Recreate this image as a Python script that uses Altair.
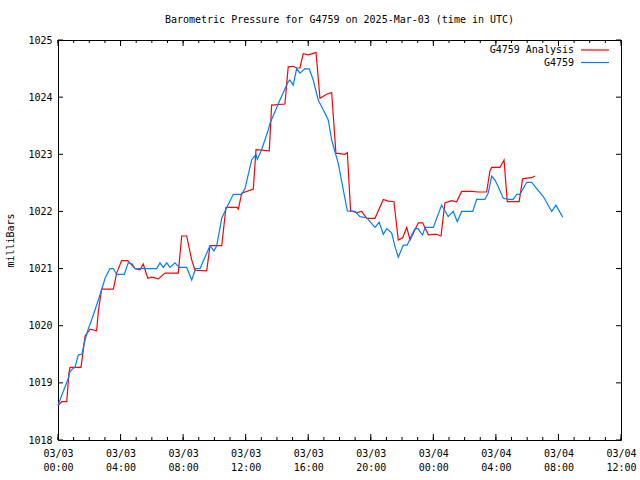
import json
import altair as alt
import pandas as pd

# ---------------- data (hours after 2025-03-03 00:00 UTC, millibars) -------------
analysis_hours = [0.0, 0.24, 0.56, 0.70, 0.77, 1.47, 1.62, 1.73, 2.05, 2.47, 2.58, 2.79,
                  3.54, 3.75, 4.07, 4.46, 4.92, 5.24, 5.45, 5.74, 5.99, 6.41, 6.84, 7.69,
                  7.91, 8.23, 8.55, 8.76, 9.51, 9.72, 10.47, 10.74, 11.43, 11.53, 11.75,
                  12.49, 12.66, 13.51, 13.66, 14.51, 14.72, 15.04, 15.26, 15.47, 15.68,
                  16.00, 16.50, 16.75, 17.18, 17.50, 17.77, 18.35, 18.50, 18.71, 19.10,
                  19.42, 19.74, 20.27, 20.80, 21.12, 21.48, 21.76, 22.04, 22.30, 22.51,
                  23.04, 23.32, 23.68, 24.00, 24.21, 24.49, 24.74, 25.17, 25.49, 25.81,
                  26.45, 26.87, 27.41, 27.62, 27.73, 28.26, 28.52, 28.73, 29.49, 29.71,
                  29.86, 30.29, 30.50]
analysis_mb = [1018.60, 1018.67, 1018.67, 1019.17, 1019.27, 1019.27, 1019.58, 1019.82,
               1019.94, 1019.91, 1020.25, 1020.64, 1020.64, 1020.92, 1021.14, 1021.14,
               1021.00, 1020.98, 1021.08, 1020.83, 1020.85, 1020.82, 1020.92, 1020.92,
               1021.57, 1021.57, 1021.15, 1020.97, 1020.96, 1021.40, 1021.40, 1022.07,
               1022.07, 1022.04, 1022.32, 1022.39, 1023.08, 1023.06, 1023.86, 1023.88,
               1024.53, 1024.54, 1024.51, 1024.51, 1024.76, 1024.74, 1024.78, 1023.98,
               1024.05, 1024.08, 1023.02, 1023.00, 1023.03, 1022.01, 1021.98, 1022.00,
               1021.88, 1021.88, 1022.21, 1022.18, 1022.17, 1021.50, 1021.54, 1021.72,
               1021.50, 1021.80, 1021.80, 1021.59, 1021.60, 1021.60, 1021.57, 1022.15,
               1022.19, 1022.17, 1022.35, 1022.35, 1022.34, 1022.34, 1022.71, 1022.77,
               1022.77, 1022.90, 1022.17, 1022.17, 1022.57, 1022.58, 1022.59, 1022.62]

obs_hours = [0.0, 0.66, 0.77, 1.09, 1.30, 1.52, 1.73, 1.94, 2.15, 2.58, 2.79, 3.01, 3.32,
             3.54, 3.75, 4.24, 4.49, 4.75, 4.92, 6.31, 6.52, 6.73, 6.95, 7.16, 7.48, 7.76,
             8.23, 8.55, 8.80, 9.08, 9.72, 9.97, 10.15, 10.47, 10.79, 11.21, 11.75, 11.96,
             12.38, 12.66, 12.74, 13.02, 13.45, 13.55, 14.19, 14.72, 14.83, 15.04, 15.26,
             15.47, 15.79, 16.07, 16.32, 16.64, 16.96, 17.28, 17.50, 17.92, 18.24, 18.50,
             18.99, 19.31, 19.74, 19.95, 20.27, 20.54, 20.80, 21.02, 21.34, 21.55, 21.76,
             22.08, 22.33, 22.62, 22.83, 23.02, 23.19, 23.32, 23.47, 24.00, 24.53, 24.70,
             24.95, 25.27, 25.53, 25.81, 26.52, 26.77, 27.30, 27.51, 27.73, 27.94, 28.15,
             28.47, 28.79, 29.11, 29.33, 29.54, 29.97, 30.29, 30.61, 31.03, 31.57, 31.84,
             32.27]
obs_mb = [1018.61, 1019.08, 1019.20, 1019.28, 1019.49, 1019.50, 1019.75, 1019.95,
          1020.10, 1020.45, 1020.63, 1020.83, 1021.00, 1021.00, 1020.90, 1020.90,
          1021.10, 1021.08, 1021.00, 1021.00, 1021.10, 1021.02, 1021.10, 1021.02,
          1021.10, 1021.02, 1021.02, 1020.80, 1021.00, 1021.00, 1021.40, 1021.31,
          1021.40, 1021.88, 1022.07, 1022.30, 1022.30, 1022.40, 1022.90, 1023.00,
          1022.91, 1023.08, 1023.43, 1023.54, 1023.95, 1024.27, 1024.30, 1024.21,
          1024.50, 1024.42, 1024.50, 1024.49, 1024.30, 1023.95, 1023.78, 1023.60,
          1023.25, 1022.84, 1022.38, 1022.01, 1022.00, 1021.91, 1021.89, 1021.82,
          1021.72, 1021.81, 1021.60, 1021.70, 1021.62, 1021.38, 1021.20, 1021.41,
          1021.41, 1021.59, 1021.70, 1021.70, 1021.63, 1021.59, 1021.72, 1021.72,
          1022.11, 1022.03, 1021.91, 1022.00, 1021.82, 1022.00, 1022.00, 1022.21,
          1022.21, 1022.32, 1022.62, 1022.55, 1022.43, 1022.23, 1022.21, 1022.21,
          1022.30, 1022.30, 1022.51, 1022.51, 1022.40, 1022.26, 1022.00, 1022.11,
          1021.90]

series_names = ["G4759 Analysis", "G4759"]
series_colors = ["#ff0000", "#0080ff"]

x_tick_hours = [0, 4, 8, 12, 16, 20, 24, 28, 32, 36]
x_tick_dates = ["03/03", "03/03", "03/03", "03/03", "03/03", "03/03",
                "03/04", "03/04", "03/04", "03/04"]
x_tick_times = ["00:00", "04:00", "08:00", "12:00", "16:00", "20:00",
                "00:00", "04:00", "08:00", "12:00"]
x_minor_hours = list(range(0, 37))
y_ticks = [1018, 1019, 1020, 1021, 1022, 1023, 1024, 1025]

title_text = "Barometric Pressure for G4759 on 2025-Mar-03 (time in UTC)"
y_title = "milliBars"

# ---------------- layout ----------------
W, H = 563, 400
FONT = "DejaVu Sans Mono"
FS = 10

x_scale = alt.Scale(domain=[0, 36], nice=False, zero=False)
y_scale = alt.Scale(domain=[1018, 1025], nice=False, zero=False)

label_expr = ("[" + json.dumps(x_tick_dates) + "[round(datum.value/4)], "
              + json.dumps(x_tick_times) + "[round(datum.value/4)]]")

x_axis = alt.Axis(values=x_tick_hours, labelExpr=label_expr, ticks=False, domain=False,
                  grid=False, labelPadding=8, labelLineHeight=14, title=None,
                  labelFlush=False, labelOverlap=False)
y_axis = alt.Axis(values=y_ticks, format="d", ticks=False, domain=False, grid=False,
                  labelPadding=6, title=y_title, titleX=-48, titleY=H / 2,
                  titleAngle=270, titleBaseline="middle", titleAlign="center")

X = lambda: alt.X("hours:Q", scale=x_scale, axis=x_axis)
Y = lambda: alt.Y("mb:Q", scale=y_scale, axis=y_axis)

df_a = pd.DataFrame({"hours": analysis_hours, "mb": analysis_mb})
df_o = pd.DataFrame({"hours": obs_hours, "mb": obs_mb})

line_a = alt.Chart(df_a).mark_line(color=series_colors[0], strokeWidth=1.2).encode(x=X(), y=Y())
line_o = alt.Chart(df_o).mark_line(color=series_colors[1], strokeWidth=1.2).encode(x=X(), y=Y())

# inward ticks (gnuplot style), on all four sides
df_major = pd.DataFrame({"hours": x_tick_hours})
df_minor = pd.DataFrame({"hours": x_minor_hours})
df_y = pd.DataFrame({"mb": y_ticks})

tick_layers = [
    alt.Chart(df_major).mark_rule(color="black").encode(x=X(), y=alt.value(H), y2=alt.value(H - 6)),
    alt.Chart(df_major).mark_rule(color="black").encode(x=X(), y=alt.value(0), y2=alt.value(6)),
    alt.Chart(df_minor).mark_rule(color="black").encode(x=X(), y=alt.value(H), y2=alt.value(H - 3)),
    alt.Chart(df_minor).mark_rule(color="black").encode(x=X(), y=alt.value(0), y2=alt.value(3)),
    alt.Chart(df_y).mark_rule(color="black").encode(y=Y(), x=alt.value(0), x2=alt.value(5)),
    alt.Chart(df_y).mark_rule(color="black").encode(y=Y(), x=alt.value(W), x2=alt.value(W - 5)),
]

legend_layers = []
for i, (name, col) in enumerate(zip(series_names, series_colors)):
    ldf = pd.DataFrame({"label": [name]})
    yy = 10 + 12.5 * i
    legend_layers.append(
        alt.Chart(ldf).mark_text(align="right", baseline="middle", font=FONT, fontSize=FS,
                                 color="black").encode(x=alt.value(516), y=alt.value(yy), text="label:N"))
    legend_layers.append(
        alt.Chart(ldf).mark_rule(color=col, strokeWidth=1.2).encode(
            x=alt.value(523), x2=alt.value(551), y=alt.value(yy)))

chart = alt.layer(*tick_layers, line_a, line_o, *legend_layers).properties(
    width=W, height=H,
    title=alt.TitleParams(title_text, font=FONT, fontSize=FS, fontWeight="normal",
                          anchor="middle", baseline="middle", offset=5, color="black"),
    autosize=alt.AutoSizeParams(type="none"),
    padding={"left": 58, "top": 40, "right": 19, "bottom": 40},
    background="white",
).configure_view(stroke="black", strokeWidth=1).configure_axis(
    labelFont=FONT, labelFontSize=FS, labelColor="black",
    titleFont=FONT, titleFontSize=FS, titleFontWeight="normal", titleColor="black",
)

chart.save("out.html", embed_options={"renderer": "svg", "actions": False})
